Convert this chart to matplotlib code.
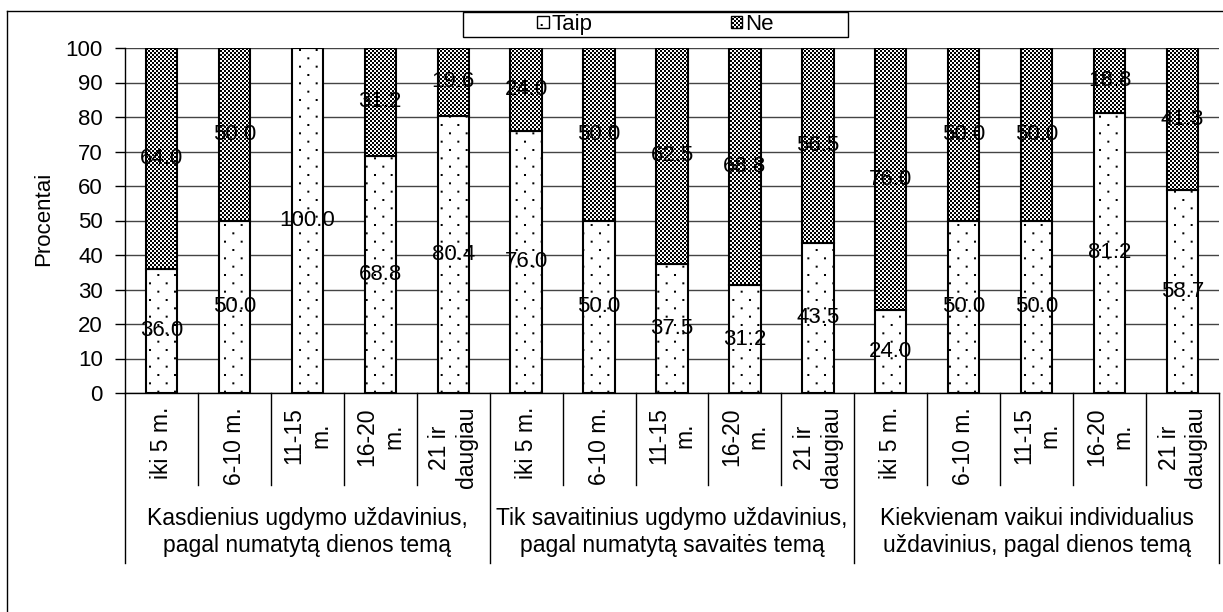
import numpy as np
import matplotlib
matplotlib.use("Agg")
import matplotlib.pyplot as plt
import matplotlib.hatch as mhatch
from matplotlib.path import Path
from matplotlib.lines import Line2D
from matplotlib.patches import Rectangle
import matplotlib.transforms as mtransforms

plt.rcParams['font.family'] = ['Liberation Sans', 'DejaVu Sans']
plt.rcParams['hatch.linewidth'] = 0.01


class StaggeredDots(mhatch.HatchPatternBase):
    """Small square dots: columns ~16 px apart, rows ~8 px apart, staggered."""
    def __init__(self, hatch, density):
        n = hatch.count('.')
        self.pts = []
        if n:
            nc = n * density
            nr = 2 * nc
            for row in range(nr + 1):
                yy = row / nr
                if row % 2 == 0:
                    cols = np.linspace(0, 1, nc + 1)
                else:
                    cols = np.linspace(0.5 / nc, 1 - 0.5 / nc, nc)
                for c in cols:
                    self.pts.append((c, yy))
        self.num_vertices = len(self.pts) * 5

    def set_vertices_and_codes(self, vertices, codes):
        r = 0.01
        sq = np.array([[-r, -r], [r, -r], [r, r], [-r, r], [-r, -r]])
        cd = [Path.MOVETO, Path.LINETO, Path.LINETO, Path.LINETO, Path.CLOSEPOLY]
        for i, (cx, cy) in enumerate(self.pts):
            vertices[i * 5:(i + 1) * 5] = sq + (cx, cy)
            codes[i * 5:(i + 1) * 5] = cd


class Checker(mhatch.HatchPatternBase):
    """Fine 2 px checkerboard."""
    def __init__(self, hatch, density):
        n = hatch.count('x')
        self.cells = []
        if n:
            m = 50
            for i in range(m):
                for j in range(m):
                    if (i + j) % 2 == 0:
                        self.cells.append((i / m, j / m, 1 / m))
        self.num_vertices = len(self.cells) * 5

    def set_vertices_and_codes(self, vertices, codes):
        cd = [Path.MOVETO, Path.LINETO, Path.LINETO, Path.LINETO, Path.CLOSEPOLY]
        for k, (x0, y0, s) in enumerate(self.cells):
            vertices[k * 5:(k + 1) * 5] = [[x0, y0], [x0 + s, y0], [x0 + s, y0 + s],
                                           [x0, y0 + s], [x0, y0]]
            codes[k * 5:(k + 1) * 5] = cd


mhatch._hatch_types[:] = [StaggeredDots, Checker]

groups = ["Kasdienius ugdymo uždavinius,\npagal numatytą dienos temą",
          "Tik savaitinius ugdymo uždavinius,\npagal numatytą savaitės temą",
          "Kiekvienam vaikui individualius\nuždavinius, pagal dienos temą"]
ages = ["iki 5 m.", "6-10 m.", "11-15\nm.", "16-20\nm.", "21 ir\ndaugiau"]
taip = [36.0, 50.0, 100.0, 68.8, 80.4,
        76.0, 50.0, 37.5, 31.2, 43.5,
        24.0, 50.0, 50.0, 81.2, 58.7]
ne = [64.0, 50.0, 0.0, 31.2, 19.6,
      24.0, 50.0, 62.5, 68.8, 56.5,
      76.0, 50.0, 50.0, 18.8, 41.3]
series_names = ["Taip", "Ne"]
yticks = list(range(0, 101, 10))

W, H = 1223, 612
fig = plt.figure(figsize=(W / 100, H / 100), dpi=100)
ax = fig.add_axes([125 / W, 1 - 393 / H, (1219 - 125) / W, (393 - 48) / H])

def fy(p):
    return 1 - p / H

n = len(taip)
x = list(range(n))
bw = 0.43
b1 = ax.bar(x, taip, width=bw, color='white', edgecolor='black', linewidth=1.5,
            hatch='.', label=series_names[0], zorder=3)
b2 = ax.bar(x, ne, width=bw, bottom=taip, color='white', edgecolor='black',
            linewidth=1.5, hatch='x', label=series_names[1], zorder=3)

for i in range(n):
    if taip[i] > 0:
        ax.text(x[i], taip[i] / 2, f"{taip[i]:.1f}", ha='center', va='center',
                fontsize=16, zorder=5)
    if ne[i] > 0:
        ax.text(x[i], taip[i] + ne[i] / 2, f"{ne[i]:.1f}", ha='center', va='center',
                fontsize=16, zorder=5)

ax.set_xlim(-0.5, n - 0.5)
ax.set_ylim(0, 100)
ax.set_yticks(yticks)
ax.tick_params(axis='y', labelsize=16, length=7, width=1, direction='out', pad=9)
ax.set_xticks([])
ax.yaxis.grid(True, color='#444444', linewidth=1.0, zorder=0)
for s in ['top', 'right']:
    ax.spines[s].set_visible(False)
ax.spines['left'].set_linewidth(1.0)
ax.spines['bottom'].set_linewidth(1.0)
fig.text(44 / W, fy(219), "Procentai", rotation=90, ha='center', va='center',
         fontsize=16)

# category axis labels and separators
trans = mtransforms.blended_transform_factory(ax.transData, fig.transFigure)
for i in range(n + 1):
    major = (i % 5 == 0)
    ybot = 563 if major else 485
    ax.add_line(Line2D([i - 0.5, i - 0.5], [fy(393), fy(ybot)], transform=trans,
                       color='black', linewidth=1.0, clip_on=False))
for i in range(n):
    ax.text(x[i], fy(407), ages[i % 5], transform=trans, rotation=90,
            ha='center', va='top', multialignment='center', fontsize=16.5,
            linespacing=1.2)
for g in range(len(groups)):
    ax.text(g * 5 + 2, fy(532), groups[g], transform=trans, ha='center',
            va='center', multialignment='center', fontsize=16.5, linespacing=1.2)

# legend
lx0, lx1, ly0, ly1 = 463, 848, 12, 37
fig.add_artist(Rectangle((lx0 / W, fy(ly1)), (lx1 - lx0) / W, (ly1 - ly0) / H,
                         transform=fig.transFigure, facecolor='white',
                         edgecolor='black', linewidth=1.0))
leg = fig.legend(handles=[b1, b2], labels=series_names, loc='center', ncol=2,
                 bbox_to_anchor=((lx0 + lx1) / 2 / W, fy((ly0 + ly1) / 2)),
                 fontsize=16, frameon=False,
                 handlelength=0.5, handleheight=0.5, handletextpad=0.15,
                 columnspacing=6.2, borderpad=0, borderaxespad=0)
for h in leg.legend_handles:
    h.set_linewidth(1.0)

# outer frame (left and top visible)
fig.add_artist(Line2D([7 / W, 1.0], [fy(11), fy(11)], transform=fig.transFigure,
                      color='black', linewidth=1.0))
fig.add_artist(Line2D([7 / W, 7 / W], [fy(11), 0.0], transform=fig.transFigure,
                      color='black', linewidth=1.0))

fig.savefig("out.png", dpi=100)
